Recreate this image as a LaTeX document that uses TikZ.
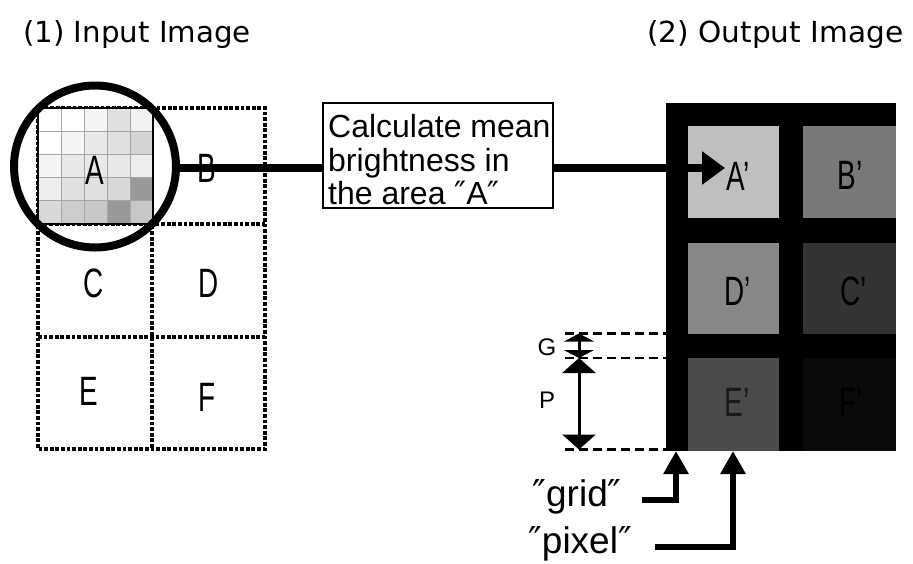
\documentclass[tikz,border=0pt]{standalone}
\usepackage{fontspec}
\setmainfont{Liberation Sans}
\newfontfamily\djv{DejaVu Sans}
\usetikzlibrary{arrows.meta,calc}
\newcommand\nar[1]{\scalebox{0.68}[1]{#1}}
\newcommand\dq{{\djv″}}
\begin{document}
\begin{tikzpicture}[x=1pt,y=-1pt,
  dotln/.style={line width=4.4pt, dash pattern=on 3.8pt off 1.8pt},
  dashln/.style={line width=2.5pt, dash pattern=on 9pt off 5pt},
  lt/.style={inner sep=0pt, font=\fontsize{41}{41}\selectfont},
  ttl/.style={anchor=base west, inner sep=0pt, font=\djv\fontsize{29}{29}\selectfont},
  boxtxt/.style={anchor=base west, inner sep=0pt, font=\fontsize{32}{32}\selectfont},
  small/.style={inner sep=0pt, font=\fontsize{24}{24}\selectfont},
  lbl/.style={anchor=base, inner sep=0pt, font=\fontsize{37}{37}\selectfont},
  thick8/.style={line width=8pt},
  dimarr/.style={line width=3pt},
]
\useasboundingbox (0,0) rectangle (913,563);

% titles
\node[ttl] (tin) at (23,42) {\scalebox{1.01}[1]{(1) Input Image}};
\node[ttl] (tout) at (647,42) {\scalebox{1.02}[1]{(2) Output Image}};

% input dotted grid
\draw[dotln] (38,108) rectangle (265,449);
\draw[dotln] (152,108) -- (152,449);
\draw[dotln] (38,224) -- (265,224);
\draw[dotln] (38,337) -- (265,337);

% pixel square in A
\foreach \v [count=\i from 0] in {0,0,4,12,5, 0,4,9,12,17, 4,9,9,9,7, 7,12,12,15,40, 15,20,22,40,22}{
  \pgfmathtruncatemacro\cc{mod(\i,5)}
  \pgfmathtruncatemacro\rr{int(\i/5)}
  \fill[black!\v] (38+\cc*23,108+\rr*23.2) rectangle ++(23,23.2);
}
\foreach \k in {1,2,3,4}{
  \draw[black!35, line width=0.8pt] (38+\k*23,108) -- (38+\k*23,224);
  \draw[black!35, line width=0.8pt] (38,108+\k*23.2) -- (153,108+\k*23.2);
}
\draw[line width=1.6pt] (38,108) rectangle (153,224);

% letters
\node[lt] (la) at (95,170) {\nar{A}};
\node[lt] (lb) at (207,168) {\nar{B}};
\node[lt] (lc) at (94,283) {\nar{C}};
\node[lt] (ld) at (209,283) {\nar{D}};
\node[lt] (le) at (89,391) {\nar{E}};
\node[lt] (lf) at (207,397) {\nar{F}};

% magnifier circle
\node[circle, draw, line width=8pt, minimum size=162pt, inner sep=0pt] (circ) at (95,166.5) {};

% box
\node[draw, line width=2.5pt, minimum width=230pt, minimum height=105pt, inner sep=0pt] (calc) at (438,155.5) {};
\node[boxtxt] (t1) at (328,137) {Calculate mean};
\node[boxtxt] (t2) at (328,171) {brightness in};
\node[boxtxt] (t3) at (328,204) {the area \dq A\dq};

% output image
\fill[black] (666,103) rectangle (896,451);
\fill[black!25] (688,126) rectangle (779,218);
\fill[black!53] (803,126) rectangle (896,218);
\fill[black!47] (688,243) rectangle (779,334);
\fill[black!80] (803,243) rectangle (896,334);
\fill[black!71] (688,358) rectangle (779,451);
\fill[black!96] (803,358) rectangle (896,451);
\node[lt] (oa) at (738,176) {\nar{A’}};
\node[lt] (ob) at (850,175) {\nar{B’}};
\node[lt] (od) at (738,291) {\nar{D’}};
\node[lt] (oc) at (854,291) {\nar{C’}};
\node[lt, text=black!90] (oe) at (737,402) {\nar{E’}};
\node[lt, text=black] (of) at (851,402) {\nar{F’}};

% connectors
\coordinate (atip) at (725,168);
\draw[thick8] (circ.east |- atip) -- (calc.west |- atip);
\draw[thick8, -{Triangle[length=23pt,width=32pt]}] (calc.east |- atip) -- (atip);

% dimension lines
\coordinate (d1l) at (565,333.5); \coordinate (d1r) at (666,333.5);
\coordinate (d2l) at (565,358);   \coordinate (d2r) at (666,358);
\coordinate (d3l) at (565,449.5); \coordinate (d3r) at (666,449.5);
\draw[dashln] (d1l) -- (d1r);
\draw[dashln] (d2l) -- (d2r);
\draw[dashln] (d3l) -- (d3r);
\coordinate (g1) at (579,333.5); \coordinate (g2) at (579,358); \coordinate (g3) at (579,449.5);
\draw[dimarr, {Triangle[length=8pt,width=30pt]}-{Triangle[length=8pt,width=30pt]}] (g1) -- (g2);
\draw[dimarr, {Triangle[length=15pt,width=33pt]}-{Triangle[length=15pt,width=33pt]}] (g2) -- (g3);
\node[small] (gl) at (547,347) {G};
\node[small] (pl) at (547,400) {P};

% grid / pixel pointers
\node[lbl] (grid) at (577,506) {\dq grid\dq};
\node[lbl] (pix) at (580,553) {\dq pixel\dq};
\coordinate (gtip) at (676,451); \coordinate (gst) at (642,500);
\coordinate (ptip) at (733,451); \coordinate (pst) at (655,547);
\draw[line width=6.5pt, -{Triangle[length=23pt,width=24pt]}] (gst) -| (gtip);
\draw[line width=6.5pt, -{Triangle[length=23pt,width=24pt]}] (pst) -| (ptip);
\end{tikzpicture}
\end{document}
